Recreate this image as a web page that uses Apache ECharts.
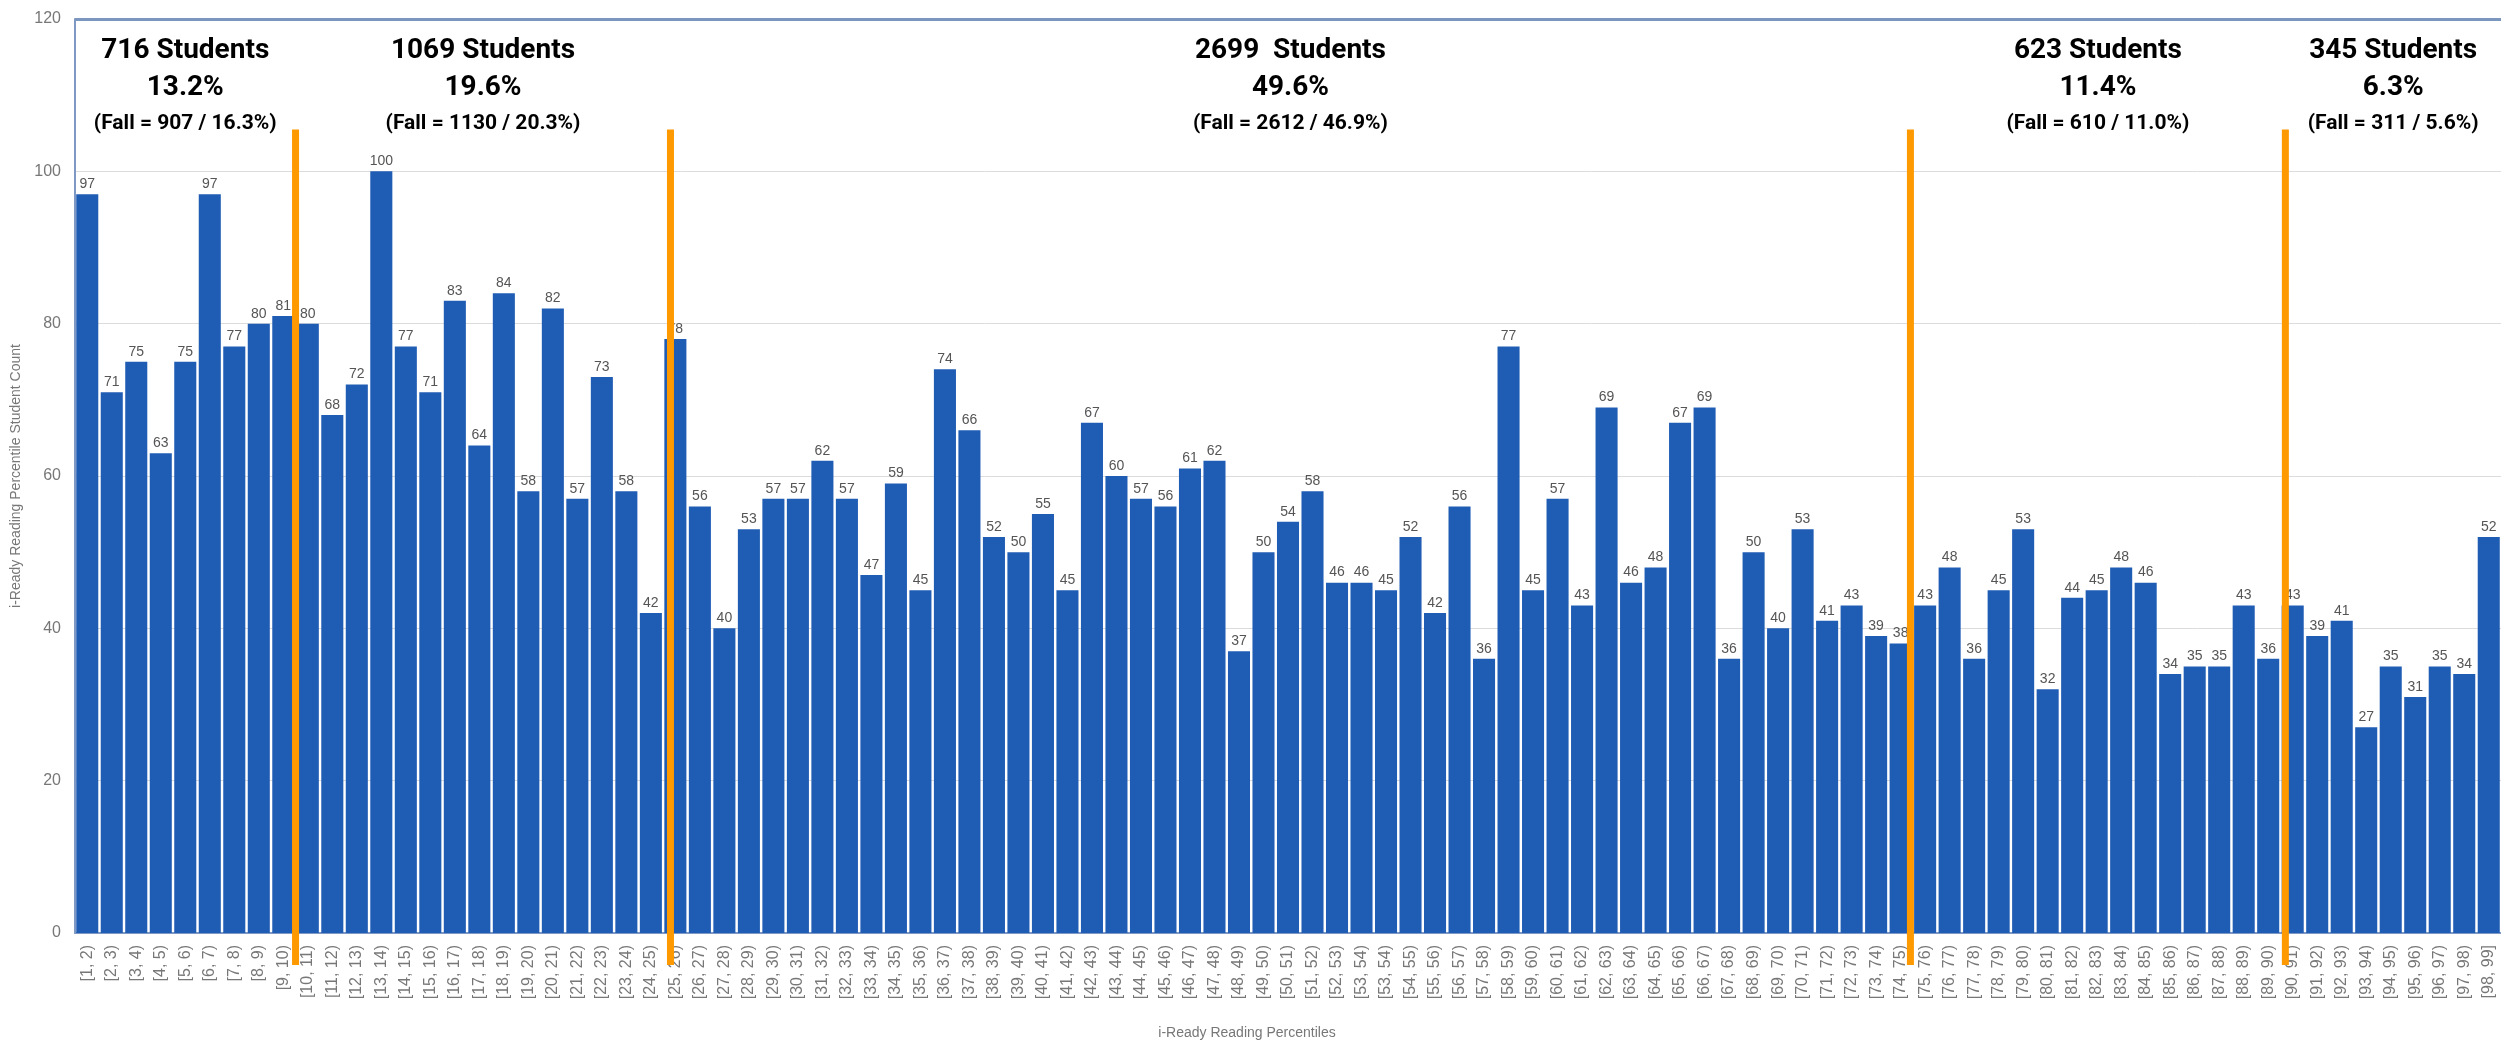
<!DOCTYPE html>
<html>
<head>
<meta charset="utf-8">
<title>i-Ready Reading Percentiles</title>
<script src="https://cdn.jsdelivr.net/npm/echarts@6/dist/echarts.min.js"></script>
<style>
    html, body { margin: 0; padding: 0; background: #fff; }
    #chart { width: 2501px; height: 1045px; }
</style>
</head>
<body>
<div id="chart"></div>
<script>
// student count per percentile bucket (left to right)
const studentCounts = [
    97, 71, 75, 63, 75, 97, 77, 80, 81,
    80, 68, 72, 100, 77, 71, 83, 64, 84, 58, 82, 57, 73, 58, 42,
    78, 56, 40, 53, 57, 57, 62, 57, 47, 59, 45, 74, 66, 52, 50, 55, 45, 67, 60, 57, 56, 61, 62,
    37, 50, 54, 58, 46, 46, 45, 52, 42, 56, 36, 77, 45, 57, 43, 69, 46, 48, 67, 69, 36, 50, 40,
    53, 41, 43, 39, 38,
    43, 48, 36, 45, 53, 32, 44, 45, 48, 46, 34, 35, 35, 43, 36,
    43, 39, 41, 27, 35, 31, 35, 34, 52,
];

// x tick labels, as printed under the bars
const percentileLabels = [
    "[1, 2)", "[2, 3)", "[3, 4)", "[4, 5)", "[5, 6)", "[6, 7)", "[7, 8)", "[8, 9)", "[9, 10)",
    "[10, 11)", "[11, 12)", "[12, 13)", "[13, 14)", "[14, 15)", "[15, 16)", "[16, 17)", "[17, 18)",
    "[18, 19)", "[19, 20)", "[20, 21)", "[21, 22)", "[22, 23)", "[23, 24)", "[24, 25)", "[25, 26)",
    "[26, 27)", "[27, 28)", "[28, 29)", "[29, 30)", "[30, 31)", "[31, 32)", "[32, 33)", "[33, 34)",
    "[34, 35)", "[35, 36)", "[36, 37)", "[37, 38)", "[38, 39)", "[39, 40)", "[40, 41)", "[41, 42)",
    "[42, 43)", "[43, 44)", "[44, 45)", "[45, 46)", "[46, 47)", "[47, 48)", "[48, 49)", "[49, 50)",
    "[50, 51)", "[51, 52)", "[52, 53)", "[53, 54)", "[53, 54)", "[54, 55)", "[55, 56)", "[56, 57)",
    "[57, 58)", "[58, 59)", "[59, 60)", "[60, 61)", "[61, 62)", "[62, 63)", "[63, 64)", "[64, 65)",
    "[65, 66)", "[66, 67)", "[67, 68)", "[68, 69)", "[69, 70)", "[70, 71)", "[71, 72)", "[72, 73)",
    "[73, 74)", "[74, 75)", "[75, 76)", "[76, 77)", "[77, 78)", "[78, 79)", "[79, 80)", "[80, 81)",
    "[81, 82)", "[82, 83)", "[83, 84)", "[84, 85)", "[85, 86)", "[86, 87)", "[87, 88)", "[88, 89)",
    "[89, 90)", "[90, 91)", "[91, 92)", "[92, 93)", "[93, 94)", "[94, 95)", "[95, 96)", "[96, 97)",
    "[97, 98)", "[98, 99]",
];

// where the orange dividers sit, counted in bars from the left
const bandCuts = [9, 24.3, 74.9, 90.2];

// band annotations
const bandStudents = ["716 Students", "1069 Students", "2699  Students", "623 Students", "345 Students"];
const bandPercents = ["13.2%", "19.6%", "49.6%", "11.4%", "6.3%"];
const bandFall = [
    "(Fall = 907 / 16.3%)",
    "(Fall = 1130 / 20.3%)",
    "(Fall = 2612 / 46.9%)",
    "(Fall = 610 / 11.0%)",
    "(Fall = 311 / 5.6%)",
];

// annotation text sits centred in each band
const bandEdges = [0, ...bandCuts, studentCounts.length];
const bandMid = bandFall.map((_, i) => (bandEdges[i] + bandEdges[i + 1]) / 2);

// layout bits (y in data units)
const annoRows = [115.8, 110.9, 106.3];
const dividerTop = 105.5;

const chart = echarts.init(document.getElementById("chart"));

const option = {
    animation: false,
    backgroundColor: "#fff",
    grid: { left: 75, right: 0, top: 19, bottom: 104 },
    xAxis: [
        {
            type: "category",
            data: percentileLabels,
            name: "i-Ready Reading Percentiles",
            nameLocation: "middle",
            nameGap: 93,
            nameTextStyle: { fontSize: 14, color: "#777", fontFamily: "Liberation Sans", padding: [0, 82, 0, 0] },
            axisLine: { lineStyle: { color: "#7f99c4", width: 2 } },
            axisTick: { show: false },
            axisLabel: {
                interval: 0,
                rotate: 90,
                margin: 12,
                fontSize: 16,
                color: "#777",
                fontFamily: "Liberation Sans",
            },
        },
        {
            // hidden helper axis for dividers and annotations
            type: "value",
            min: 0,
            max: studentCounts.length,
            show: false,
        },
    ],
    yAxis: {
        type: "value",
        min: 0,
        max: 120,
        interval: 20,
        name: "i-Ready Reading Percentile Student Count",
        nameLocation: "middle",
        nameRotate: 90,
        nameGap: 52,
        nameTextStyle: { fontSize: 14, color: "#777", fontFamily: "Liberation Sans" },
        axisLine: { show: true, lineStyle: { color: "#7f99c4", width: 2 } },
        axisTick: { show: false },
        axisLabel: { fontSize: 16, color: "#777", margin: 14, fontFamily: "Liberation Sans" },
        splitLine: { lineStyle: { color: "#dcdcdc" } },
    },
    series: [
        {
            name: "Student Count",
            type: "bar",
            data: studentCounts,
            barCategoryGap: "10%",
            itemStyle: { color: "#1f5cb4" },
            label: {
                show: true,
                position: "top",
                distance: 3,
                fontSize: 14,
                color: "#555",
                fontFamily: "Liberation Sans",
            },
            markLine: {
                silent: true,
                symbol: "none",
                label: { show: false },
                lineStyle: { color: "#7b96bf", width: 3, type: "solid" },
                data: [{ yAxis: 120 }],
            },
        },
        {
            // orange band dividers
            type: "custom",
            xAxisIndex: 1,
            z: 5,
            clip: false,
            data: bandCuts.map((c) => [c]),
            renderItem: (params, api) => {
                const top = api.coord([api.value(0), dividerTop]);
                const base = api.coord([api.value(0), 0]);
                return {
                    type: "line",
                    shape: { x1: top[0], y1: top[1], x2: top[0], y2: base[1] + 32 },
                    style: { stroke: "#ff9900", lineWidth: 7 },
                };
            },
        },
        {
            // band annotations
            type: "custom",
            xAxisIndex: 1,
            z: 6,
            clip: false,
            data: bandMid.map((m) => [m]),
            renderItem: (params, api) => {
                const i = params.dataIndex;
                const texts = [bandStudents[i], bandPercents[i], bandFall[i]];
                const sizes = [28, 28, 21];
                return {
                    type: "group",
                    children: texts.map((t, k) => {
                        const p = api.coord([api.value(0), annoRows[k]]);
                        return {
                            type: "text",
                            x: p[0],
                            y: p[1],
                            style: {
                                text: t,
                                fill: "#000",
                                font: `bold ${sizes[k]}px Roboto`,
                                align: "center",
                                verticalAlign: "middle",
                            },
                        };
                    }),
                };
            },
        },
    ],
};

chart.setOption(option);
window.addEventListener("resize", () => chart.resize());
</script>
</body>
</html>
